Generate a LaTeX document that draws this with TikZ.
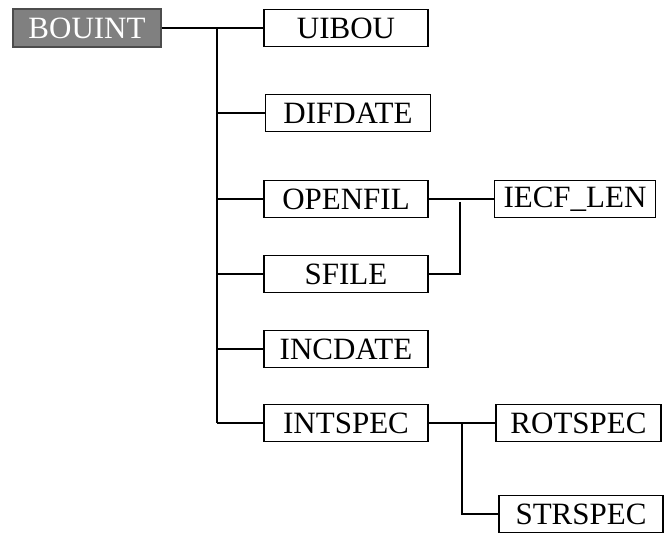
\documentclass[tikz,border=0pt]{standalone}
\usepackage{fontspec}
\setmainfont{Liberation Serif}
\begin{document}
\begin{tikzpicture}[x=1pt,y=-1pt,
  box/.style={draw=black,line width=1.2pt,fill=white,minimum height=37pt,inner sep=0pt,font=\fontsize{31}{32}\selectfont},
  rootbox/.style={draw=black!70,line width=1.2pt,fill=black!50,text=white,minimum height=38pt,minimum width=148pt,inner sep=0pt,font=\fontsize{31}{32}\selectfont},
  link/.style={draw=black,line width=1.2pt}]
\useasboundingbox (0,0) rectangle (668,534);
\node[rootbox] (bouint) at (87,28) {BOUINT};
\node[box,minimum width=164pt] (uibou) at (346,28) {UIBOU};
\node[box,minimum width=165pt] (difdate) at (348,113) {DIFDATE};
\node[box,minimum width=164pt] (openfil) at (346,199) {OPENFIL};
\node[box,minimum width=164pt] (sfile) at (346,274) {SFILE};
\node[box,minimum width=164pt] (incdate) at (346,349) {INCDATE};
\node[box,minimum width=164pt] (intspec) at (346,423) {INTSPEC};
\node[box,minimum width=161pt] (iecf) at (575,199) {IECF\_LEN};
\node[box,minimum width=165pt] (rotspec) at (578.5,423) {ROTSPEC};
\node[box,minimum width=164pt] (strspec) at (581,514) {STRSPEC};
\coordinate (trtop) at (217,28);
\coordinate (trbot) at (217,423);
\coordinate (sfv) at (460,202);
\coordinate (isv) at (462,423);
\draw[link] (bouint.east) -- (uibou.west);
\draw[link] (trtop) -- (trbot);
\draw[link] (217,113) -- (difdate.west);
\draw[link] (217,199) -- (openfil.west);
\draw[link] (217,274) -- (sfile.west);
\draw[link] (217,349) -- (incdate.west);
\draw[link] (trbot) -- (intspec.west);
\draw[link] (openfil.east) -- (iecf.west);
\draw[link] (sfv) |- (sfile.east);
\draw[link] (intspec.east) -- (rotspec.west);
\draw[link] (isv) |- (strspec.west);
\end{tikzpicture}
\end{document}
